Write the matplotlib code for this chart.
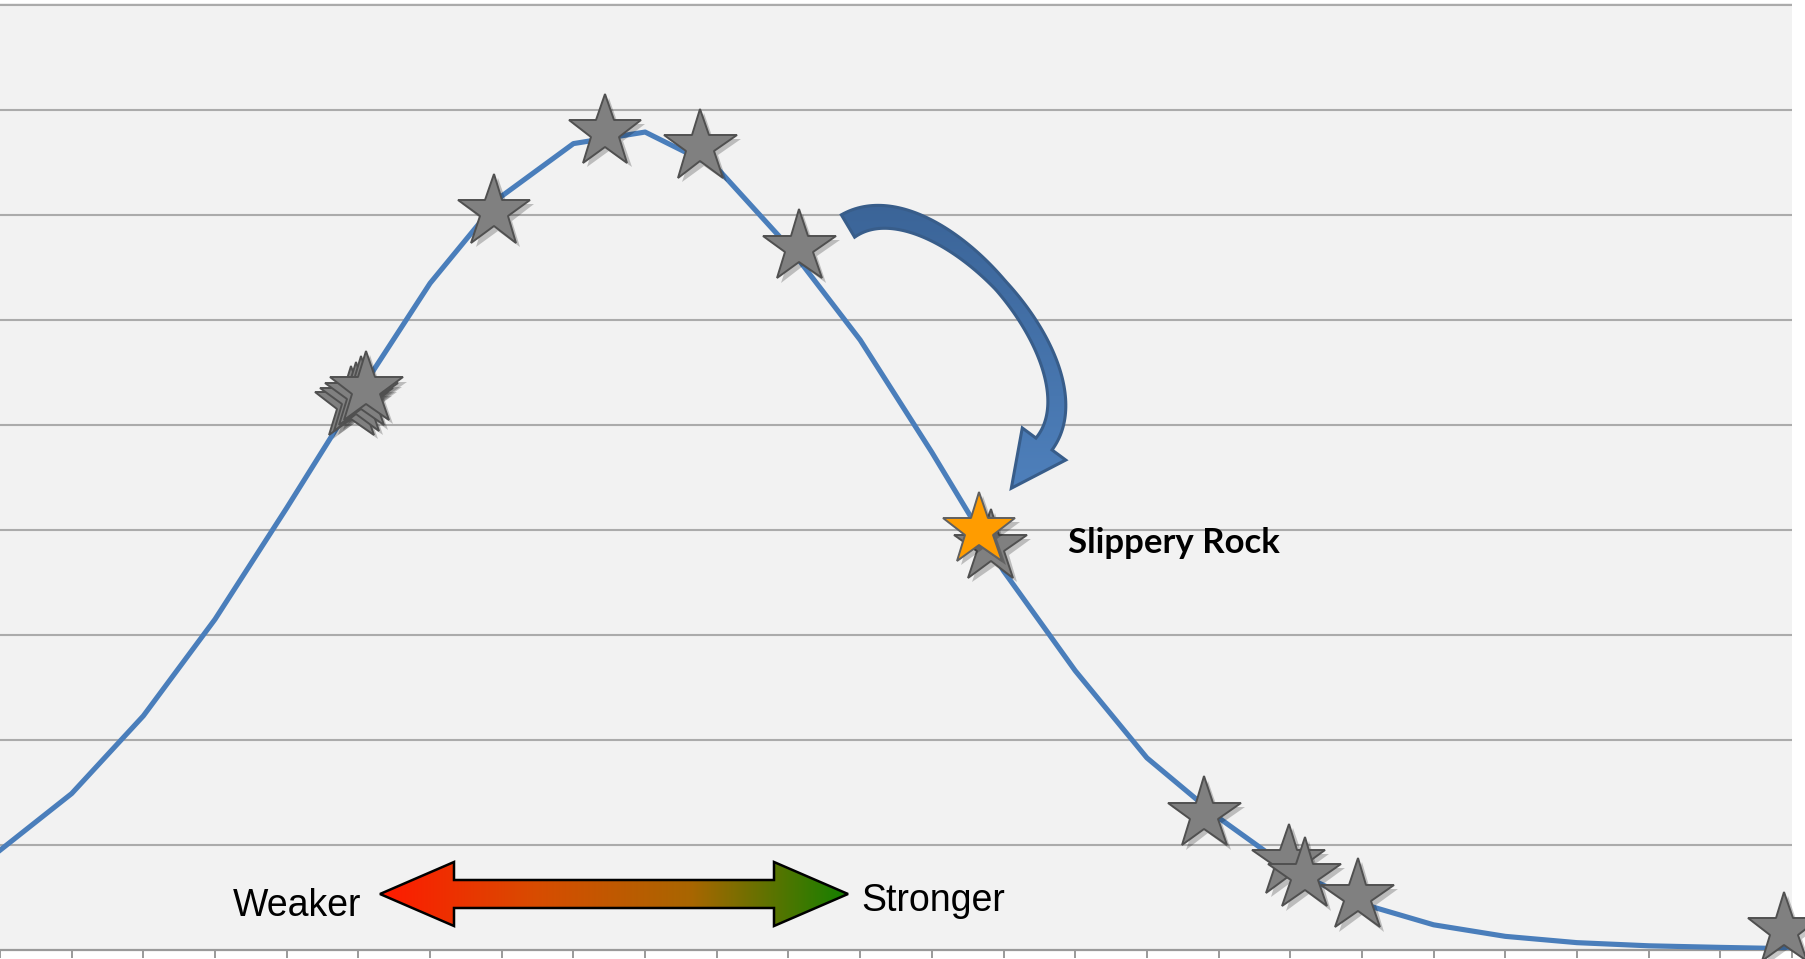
import numpy as np
import matplotlib
matplotlib.use("Agg")
import matplotlib.pyplot as plt
import matplotlib.patheffects as pe
from matplotlib.patches import Polygon
from matplotlib.colors import LinearSegmentedColormap

# curve value at each category tick
curve_y = [0.95, 1.49, 2.23, 3.15, 4.21, 5.30, 6.35, 7.18, 7.68, 7.79,
           7.45, 6.70, 5.81, 4.74, 3.61, 2.66, 1.83, 1.26, 0.77, 0.44,
           0.24, 0.13, 0.07, 0.04, 0.025, 0.012]
curve_x = list(range(len(curve_y)))

# gray stars (other schools)
star_x = [4.90, 4.97, 5.04, 5.11, 6.89, 8.44, 9.77, 11.15, 13.82,
          16.80, 17.98, 18.20, 18.94, 24.89]
star_y = [5.20, 5.24, 5.29, 5.34, 7.03, 7.79, 7.65, 6.69, 3.84,
          1.29, 0.84, 0.71, 0.51, 0.19]

# highlighted school
hl_x = [13.66]
hl_y = [4.00]
hl_label = "Slippery Rock"

grid_levels = list(range(1, 10))
W, H = 1806, 959

fig = plt.figure(figsize=(W / 100, H / 100), dpi=100)
fig.patch.set_facecolor("white")

ax = fig.add_axes([0, 9 / H, 1792 / W, 947 / H])
ax.set_facecolor("#f2f2f2")
ax.set_xlim(0, 25)
ax.set_ylim(0, 947 / 105)
ax.set_yticks(grid_levels)
ax.set_xticks(curve_x)
ax.yaxis.grid(True, color="#ababab", lw=1.5)
ax.set_axisbelow(True)
ax.tick_params(labelbottom=False, axis="x", direction="out",
               length=6, width=1.4, color="#9a9a9a")
ax.tick_params(axis="y", left=False, labelleft=False)
for s in ["top", "right", "left"]:
    ax.spines[s].set_visible(False)
ax.spines["bottom"].set_color("#9a9a9a")
ax.spines["bottom"].set_linewidth(1.6)

ax.plot(curve_x, curve_y, color="#4a7ebb", lw=3.7, zorder=3)

shadow = [pe.SimplePatchShadow(offset=(3, -3), shadow_rgbFace="black", alpha=0.22), pe.Normal()]
ax.plot(star_x, star_y, ls="none", marker="*", ms=55, mfc="#808080",
        mec="#505050", mew=1.4, clip_on=False, zorder=4, path_effects=shadow)
ax.plot(hl_x, hl_y, ls="none", marker="*", ms=55, mfc="#ff9c00",
        mec="#606060", mew=1.4, clip_on=False, zorder=5, path_effects=shadow)

# overlay in pixel coordinates for the drawn shapes and labels
ov = fig.add_axes([0, 0, 1, 1], zorder=5)
ov.axis("off")

# red -> green double arrow
dbl = np.array([(380, 894), (454, 862), (454, 880), (774, 880), (774, 862),
                (848, 894), (774, 926), (774, 908), (454, 908), (454, 926)])
dbl_patch = Polygon(dbl, closed=True, fc="none", ec="black", lw=1.8, zorder=7)
ov.add_patch(dbl_patch)
rg = LinearSegmentedColormap.from_list("rg", ["#ff1a00", "#d84c00", "#a86600", "#148000"])
im = ov.imshow(np.linspace(0, 1, 256)[None, :], extent=(380, 848, 926, 862),
               cmap=rg, aspect="auto", zorder=6)
im.set_clip_path(dbl_patch)

# curved block arrow
def bez(p, t):
    t = t[:, None]
    return (1 - t) ** 3 * p[0] + 3 * (1 - t) ** 2 * t * p[1] + 3 * (1 - t) * t ** 2 * p[2] + t ** 3 * p[3]

P = np.array([[848, 226], [933, 173], [1105, 365], [1044, 444]])
t = np.linspace(0, 1, 120)
c = bez(P, t)
d = np.gradient(c, axis=0)
d /= np.linalg.norm(d, axis=1)[:, None]
n = np.stack([-d[:, 1], d[:, 0]], 1)
w = np.interp(t, [0, 0.5, 1], [26, 13, 20]) / 2
left = c + n * w[:, None]
right = c - n * w[:, None]
tip = c[-1] + d[-1] * 55
head = np.array([c[-1] + n[-1] * 27, tip, c[-1] - n[-1] * 27])
poly = np.vstack([left, head, right[::-1]])
arr_patch = Polygon(poly, closed=True, fc="none", ec="#385d8a", lw=2.2, zorder=7)
ov.add_patch(arr_patch)
blue = LinearSegmentedColormap.from_list("bl", ["#3a6396", "#4f81bd"])
im2 = ov.imshow(np.linspace(0, 1, 256)[:, None], extent=(820, 1080, 500, 190),
                cmap=blue, aspect="auto", zorder=6)
im2.set_clip_path(arr_patch)

ov.text(361, 916, "Weaker", ha="right", va="baseline", fontsize=27, family="Liberation Sans")
ov.text(861, 911, "Stronger", ha="left", va="baseline", fontsize=27, family="Liberation Sans")
ov.text(1068, 553, hl_label, ha="left", va="baseline", fontsize=25,
        family=["Lato", "DejaVu Sans"], weight="bold")

ov.set_xlim(0, W)
ov.set_ylim(H, 0)

fig.savefig("out.png", dpi=100)
